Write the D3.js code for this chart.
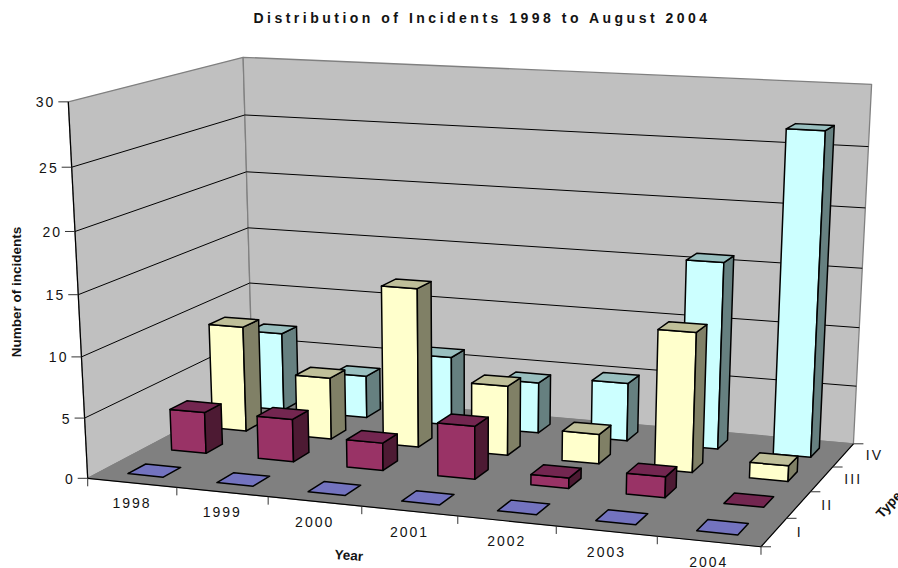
<!DOCTYPE html>
<html lang="en">
<head>
    <meta charset="UTF-8">
    <script src="https://cdnjs.cloudflare.com/ajax/libs/d3/7.8.5/d3.min.js"></script>
    <title>Distribution of Incidents</title>
    <style>
        body { margin: 0; background: #fff; }
        svg { display: block; }
        text { font-family: 'Liberation Sans', Arial, sans-serif; fill: #111; opacity: 0.99; }
        .tick-label { font-size: 14px; letter-spacing: 2px; }
        .axis-title { font-size: 13.5px; font-weight: bold; }
        .title { font-size: 14px; font-weight: bold; letter-spacing: 3.5px; }
    </style>
</head>
<body>
    <div id="chart"></div>
    <script>
        // Data
        const years = ["1998", "1999", "2000", "2001", "2002", "2003", "2004"];
        const types = ["I", "II", "III", "IV"];
        const typeI = [0, 0, 0, 0, 0, 0, 0];
        const typeII = [3.5, 3.6, 2.3, 4.4, 0.85, 1.7, 0];
        const typeIII = [9.1, 5.3, 13.5, 5.9, 2.5, 11.6, 1.3];
        const typeIV = [6.9, 3.7, 6, 4.4, 5, 15.8, 26.9];
        const valueTicks = [0, 5, 10, 15, 20, 25, 30];

        const seriesByType = { I: typeI, II: typeII, III: typeIII, IV: typeIV };

        // face colours: front, side, top
        const typeColors = {
            I: ["#9999FF", "#4D4D80", "#7373BF"],
            II: ["#993366", "#4D1A33", "#732650"],
            III: ["#FFFFCC", "#808066", "#BFBF99"],
            IV: ["#CCFFFF", "#668080", "#99BFBF"]
        };

        const width = 898, height = 568;

        // Where the corners of the chart box fall on the screen (u = year, v = type, w = value)
        const boxCorners = [
            [0, 0, 0, 88, 477.5],
            [1, 0, 0, 761, 547.5],
            [0, 1, 0, 252.5, 392],
            [1, 1, 0, 853.5, 443],
            [0, 0, 1, 68, 102],
            [0, 1, 1, 243.5, 57],
            [1, 1, 1, 871.5, 84.5]
        ];

        // Least squares fit of the 3x4 camera matrix
        function fitCamera(points) {
            const n = 11;
            const A = d3.range(n).map(() => new Array(n + 1).fill(0));
            const addRow = (row, rhs) => {
                for (let i = 0; i < n; i++) {
                    for (let j = 0; j < n; j++) A[i][j] += row[i] * row[j];
                    A[i][n] += row[i] * rhs;
                }
            };
            points.forEach(([u, v, w, x, y]) => {
                addRow([u, v, w, 1, 0, 0, 0, 0, -x * u, -x * v, -x * w], x);
                addRow([0, 0, 0, 0, u, v, w, 1, -y * u, -y * v, -y * w], y);
            });
            for (let i = 0; i < n; i++) {
                let best = i;
                for (let r = i + 1; r < n; r++) if (Math.abs(A[r][i]) > Math.abs(A[best][i])) best = r;
                [A[i], A[best]] = [A[best], A[i]];
                for (let r = 0; r < n; r++) {
                    if (r === i) continue;
                    const f = A[r][i] / A[i][i];
                    for (let c = i; c <= n; c++) A[r][c] -= f * A[i][c];
                }
            }
            return A.map((row, i) => row[n] / row[i]);
        }

        const cam = fitCamera(boxCorners);

        function project(u, v, w) {
            const d = cam[8] * u + cam[9] * v + cam[10] * w + 1;
            return [
                (cam[0] * u + cam[1] * v + cam[2] * w + cam[3]) / d,
                (cam[4] * u + cam[5] * v + cam[6] * w + cam[7]) / d
            ];
        }

        // Scales
        const xScale = d3.scaleBand().domain(years).range([0, 1]).paddingInner(0.6).paddingOuter(0.3);
        const depthScale = d3.scaleBand().domain(types).range([0, 1]).paddingInner(0.6).paddingOuter(0.3);
        const valueScale = d3.scaleLinear().domain([0, 30]).range([0, 1]);

        const svg = d3.select("#chart").append("svg")
            .attr("width", width)
            .attr("height", height);

        const pathFrom = d3.line().curve(d3.curveLinearClosed);

        function face(corners, fill, stroke, strokeWidth) {
            svg.append("path")
                .attr("d", pathFrom(corners.map(c => project(c[0], c[1], c[2]))))
                .attr("fill", fill)
                .attr("stroke", stroke)
                .attr("stroke-width", strokeWidth)
                .attr("stroke-linejoin", "round");
        }

        function segment(a, b, stroke, strokeWidth) {
            const p = project(a[0], a[1], a[2]);
            const q = project(b[0], b[1], b[2]);
            svg.append("line")
                .attr("x1", p[0]).attr("y1", p[1])
                .attr("x2", q[0]).attr("y2", q[1])
                .attr("stroke", stroke)
                .attr("stroke-width", strokeWidth);
        }

        // Walls and floor
        face([[0, 0, 0], [0, 1, 0], [0, 1, 1], [0, 0, 1]], "#C0C0C0", "#808080", 1.3);
        face([[0, 1, 0], [1, 1, 0], [1, 1, 1], [0, 1, 1]], "#C0C0C0", "#808080", 1.3);
        face([[0, 0, 0], [1, 0, 0], [1, 1, 0], [0, 1, 0]], "#808080", "#808080", 1);

        // Gridlines
        valueTicks.slice(1, -1).forEach(t => {
            const w = valueScale(t);
            segment([0, 0, w], [0, 1, w], "#000", 1);
            segment([0, 1, w], [1, 1, w], "#000", 1);
        });

        // Axis lines
        segment([0, 0, 0], [0, 0, 1], "#000", 1.2);
        segment([0, 0, 0], [1, 0, 0], "#000", 1.2);
        segment([1, 0, 0], [1, 1, 0], "#000", 1.2);

        // Value axis ticks
        valueTicks.forEach(t => {
            const p = project(0, 0, valueScale(t));
            svg.append("line")
                .attr("x1", p[0] - 10).attr("y1", p[1])
                .attr("x2", p[0]).attr("y2", p[1])
                .attr("stroke", "#333").attr("stroke-width", 1);
            svg.append("text")
                .attr("class", "tick-label")
                .attr("x", p[0] - 13).attr("y", p[1] + 5.5)
                .attr("text-anchor", "end")
                .text(t);
        });

        // Year axis ticks and labels
        const yearStep = xScale.step();
        d3.range(years.length + 1).forEach(i => {
            const p = project(i * yearStep, 0, 0);
            svg.append("line")
                .attr("x1", p[0]).attr("y1", p[1])
                .attr("x2", p[0]).attr("y2", p[1] + 8)
                .attr("stroke", "#333").attr("stroke-width", 1);
        });
        years.forEach(y => {
            const p = project(xScale(y) + xScale.bandwidth() / 2, 0, 0);
            svg.append("text")
                .attr("class", "tick-label")
                .attr("x", p[0]).attr("y", p[1] + 25.5)
                .attr("text-anchor", "middle")
                .text(y);
        });

        // Type axis ticks and labels
        const typeStep = depthScale.step();
        d3.range(types.length + 1).forEach(i => {
            const p = project(1, i * typeStep, 0);
            svg.append("line")
                .attr("x1", p[0]).attr("y1", p[1])
                .attr("x2", p[0] + 10).attr("y2", p[1])
                .attr("stroke", "#333").attr("stroke-width", 1);
        });
        types.forEach(t => {
            const p = project(1, depthScale(t) + depthScale.bandwidth() / 2, 0);
            svg.append("text")
                .attr("class", "tick-label")
                .attr("x", p[0] + 22.7).attr("y", p[1] + 5)
                .text(t);
        });

        // Bars, back row first
        types.slice().reverse().forEach(t => {
            const [front, side, top] = typeColors[t];
            const v0 = depthScale(t), v1 = v0 + depthScale.bandwidth();
            years.forEach((y, i) => {
                const u0 = xScale(y), u1 = u0 + xScale.bandwidth();
                const w = valueScale(seriesByType[t][i]);
                if (w > 0) {
                    face([[u0, v0, 0], [u1, v0, 0], [u1, v0, w], [u0, v0, w]], front, "#000", 1.5);
                    face([[u1, v0, 0], [u1, v1, 0], [u1, v1, w], [u1, v0, w]], side, "#000", 1.5);
                }
                face([[u0, v0, w], [u1, v0, w], [u1, v1, w], [u0, v1, w]], top, "#000", 1.5);
            });
        });

        // Titles
        svg.append("text")
            .attr("class", "title")
            .attr("x", 482).attr("y", 23)
            .attr("text-anchor", "middle")
            .text("Distribution of Incidents 1998 to August 2004");

        svg.append("text")
            .attr("class", "axis-title")
            .attr("transform", "translate(21,292) rotate(-90)")
            .attr("text-anchor", "middle")
            .text("Number of incidents");

        svg.append("text")
            .attr("class", "axis-title")
            .attr("transform", "translate(348.5,560) rotate(4)")
            .attr("text-anchor", "middle")
            .text("Year");

        svg.append("text")
            .attr("class", "axis-title")
            .attr("transform", "translate(882,519) rotate(-48)")
            .text("Type");
    </script>
</body>
</html>
